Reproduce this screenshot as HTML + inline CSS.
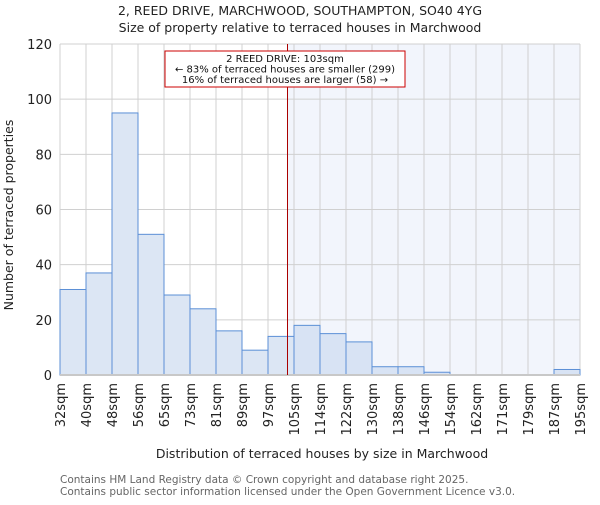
<!DOCTYPE html>
<html><head><meta charset="utf-8"><style>
body{margin:0;background:#fff;font-family:"Liberation Sans","DejaVu Sans",sans-serif}
svg text{font-family:"DejaVu Sans","Liberation Sans",sans-serif}
</style></head><body>
<svg id="c" width="600" height="500" xmlns="http://www.w3.org/2000/svg">
<text x="300" y="15" text-anchor="middle" font-size="12.5" fill="#222">2, REED DRIVE, MARCHWOOD, SOUTHAMPTON, SO40 4YG</text>
<text x="300" y="32" text-anchor="middle" font-size="12.5" fill="#222">Size of property relative to terraced houses in Marchwood</text>
<text transform="translate(13,215) rotate(-90)" text-anchor="middle" font-size="12.5" fill="#222">Number of terraced properties</text>
<text x="322" y="458" text-anchor="middle" font-size="12.5" fill="#222">Distribution of terraced houses by size in Marchwood</text>
<text x="60" y="483" font-size="10.5" fill="#666">Contains HM Land Registry data © Crown copyright and database right 2025.</text>
<text x="60" y="495" font-size="10.5" fill="#666">Contains public sector information licensed under the Open Government Licence v3.0.</text>
<g id="plot"></g>
</svg>
<script>
const labels=["32sqm","40sqm","48sqm","56sqm","65sqm","73sqm","81sqm","89sqm","97sqm","105sqm","114sqm","122sqm","130sqm","138sqm","146sqm","154sqm","162sqm","171sqm","179sqm","187sqm","195sqm"];
const counts=[31,37,95,51,29,24,16,9,14,18,15,12,3,3,1,0,0,0,0,2];
const yTicks=[0,20,40,60,80,100,120];
const subjectSize=103;
const binEdges=[32,40,48,56,65,73,81,89,97,105,114,122,130,138,146,154,162,171,179,187,195];
const X0=60,X1=580,Y0=375,Y1=44,YMAX=120;
const NS="http://www.w3.org/2000/svg";
const g=document.getElementById('plot');
const bw=(X1-X0)/counts.length;
const xi=i=>X0+i*bw;
const y=v=>Y0-(v/YMAX)*(Y0-Y1);
function xs(v){for(let i=0;i<binEdges.length-1;i++){if(v<=binEdges[i+1]){return xi(i)+(v-binEdges[i])/(binEdges[i+1]-binEdges[i])*bw;}}return X1;}
function mk(t,a){const e=document.createElementNS(NS,t);for(const k in a)e.setAttribute(k,a[k]);g.appendChild(e);return e;}
const sx=xs(subjectSize);
let e=mk('rect',{x:sx,y:Y1,width:X1-sx,height:Y0-Y1,fill:'#f2f5fc'});


yTicks.forEach(t=>{const l=mk('line',{x1:X0,x2:X1,y1:y(t),y2:y(t),stroke:'#d0d0d0','stroke-width':1});


const tx=mk('text',{x:X0-8,y:y(t)+5,'text-anchor':'end','font-size':'13',fill:'#222'});tx.textContent=t;

});
labels.forEach((s,i)=>{const l=mk('line',{x1:xi(i),x2:xi(i),y1:Y1,y2:Y0,stroke:'#d0d0d0','stroke-width':1});


const tx=mk('text',{transform:`translate(${xi(i)+5},${Y0+8}) rotate(-90)`,'text-anchor':'end','font-size':'13',fill:'#222'});tx.textContent=s;

});
counts.forEach((c,i)=>{if(c<=0)return;const r=mk('rect',{x:xi(i),y:y(c),width:bw,height:Y0-y(c),fill:xi(i)>=sx?'#d8e3f4':'#dce6f4',stroke:'#5b8fd6','stroke-width':1});

});
e=mk('line',{x1:X0,x2:X1,y1:Y0,y2:Y0,stroke:'#c8c8c8','stroke-width':2});


e=mk('line',{x1:sx,x2:sx,y1:Y1,y2:Y0,stroke:'#aa0000','stroke-width':1});


e=mk('rect',{x:165,y:51,width:240,height:36,fill:'#fff',stroke:'#cc0000','stroke-width':1});


["2 REED DRIVE: 103sqm","← 83% of terraced houses are smaller (299)","16% of terraced houses are larger (58) →"].forEach((s,i)=>{const t=mk('text',{x:285,y:62+i*10.5,'text-anchor':'middle','font-size':'10',fill:'#111'});t.textContent=s;

});
</script>
</body></html>
